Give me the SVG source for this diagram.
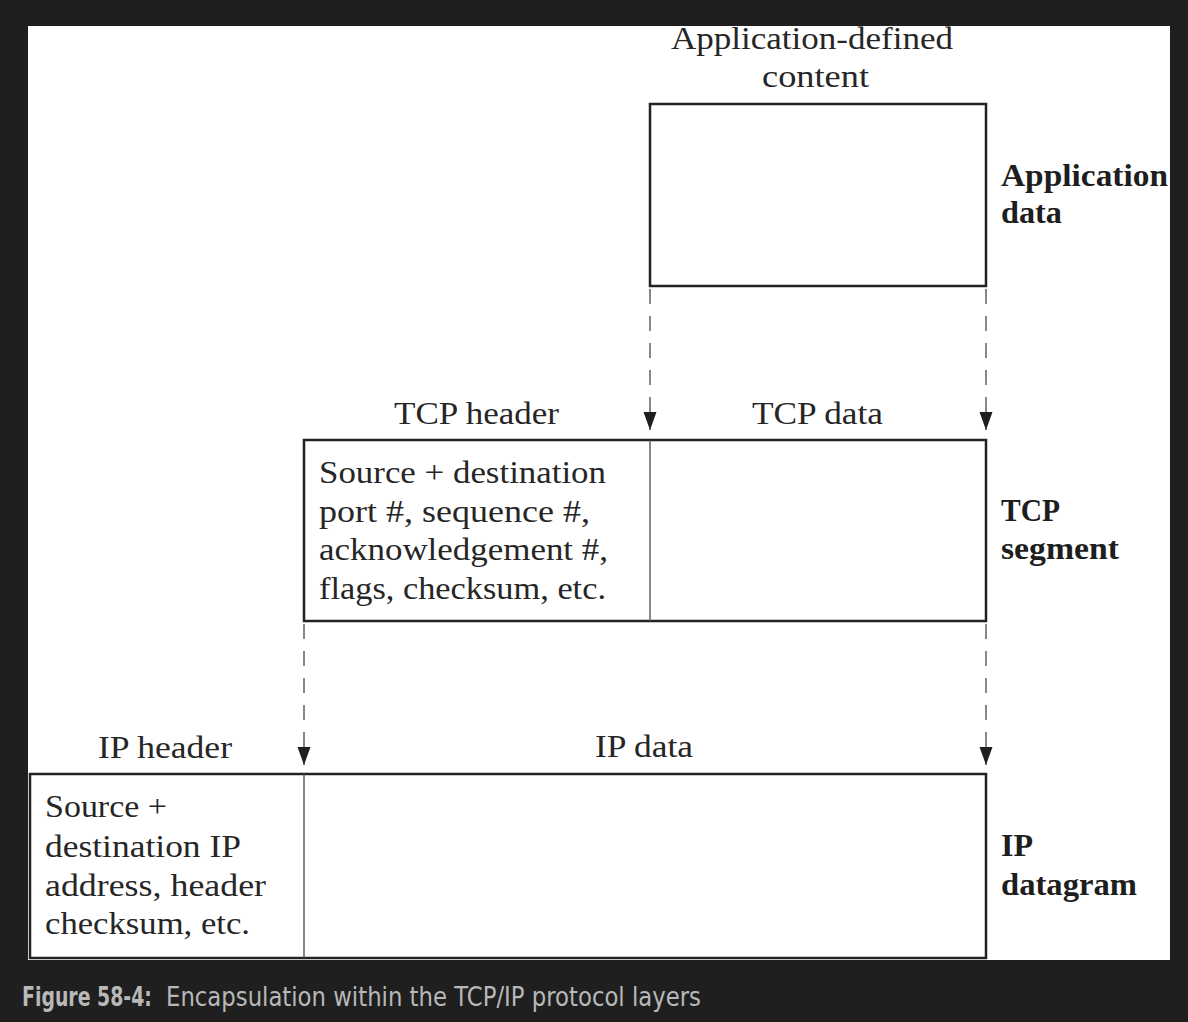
<svg xmlns="http://www.w3.org/2000/svg" width="1188" height="1022" viewBox="0 0 1188 1022">
  <style>
    .t { font-family: "Liberation Serif", "DejaVu Serif", serif; font-size: 31px; fill: #262626; }
    .b { font-family: "Liberation Serif", "DejaVu Serif", serif; font-size: 31px; font-weight: bold; fill: #1e1e1e; }
    .box { fill: none; stroke: #222; stroke-width: 2.5; }
    .div { stroke: #555; stroke-width: 1.4; }
    .dash { stroke: #555; stroke-width: 1.4; stroke-dasharray: 15 12; fill: none; }
    .cap { font-family: "DejaVu Sans", sans-serif; font-size: 27px; fill: #b8b8b8; }
  </style>
  <defs>
    <marker id="arr" markerUnits="userSpaceOnUse" markerWidth="20" markerHeight="14" viewBox="0 0 20 14" refX="18" refY="7" orient="auto">
      <path d="M0,0.5 L18,7 L0,13.5 Z" fill="#1e1e1e"/>
    </marker>
  </defs>
  <rect x="0" y="0" width="1188" height="1022" fill="#1f1f1f"/>
  <rect x="28" y="26" width="1142" height="934" fill="#ffffff"/>

  <g id="app-data">
    <text class="t" x="671" y="49" textLength="282" lengthAdjust="spacingAndGlyphs">Application-defined</text>
    <text class="t" x="762" y="87" textLength="107" lengthAdjust="spacingAndGlyphs">content</text>
    <rect class="box" x="650" y="104" width="336" height="182"/>
    <text class="b" x="1001" y="186" textLength="167" lengthAdjust="spacingAndGlyphs">Application</text>
    <text class="b" x="1001" y="223" textLength="61" lengthAdjust="spacingAndGlyphs">data</text>
  </g>

  <g id="tcp-segment">
    <text class="t" x="394" y="424" textLength="165" lengthAdjust="spacingAndGlyphs">TCP header</text>
    <text class="t" x="752" y="424" textLength="131" lengthAdjust="spacingAndGlyphs">TCP data</text>
    <rect class="box" x="304" y="440" width="682" height="181"/>
    <line class="div" x1="650" y1="440" x2="650" y2="621"/>
    <text class="t" x="319" y="483" textLength="287" lengthAdjust="spacingAndGlyphs">Source + destination</text>
    <text class="t" x="319" y="522" textLength="271" lengthAdjust="spacingAndGlyphs">port #, sequence #,</text>
    <text class="t" x="319" y="560" textLength="289" lengthAdjust="spacingAndGlyphs">acknowledgement #,</text>
    <text class="t" x="319" y="599" textLength="287" lengthAdjust="spacingAndGlyphs">flags, checksum, etc.</text>
    <text class="b" x="1001" y="521" textLength="59" lengthAdjust="spacingAndGlyphs">TCP</text>
    <text class="b" x="1001" y="559" textLength="118" lengthAdjust="spacingAndGlyphs">segment</text>
  </g>

  <g id="ip-datagram">
    <text class="t" x="98" y="758" textLength="134" lengthAdjust="spacingAndGlyphs">IP header</text>
    <text class="t" x="595" y="757" textLength="98" lengthAdjust="spacingAndGlyphs">IP data</text>
    <rect class="box" x="30" y="774" width="956" height="184"/>
    <line class="div" x1="304" y1="774" x2="304" y2="958"/>
    <text class="t" x="45" y="817" textLength="122" lengthAdjust="spacingAndGlyphs">Source +</text>
    <text class="t" x="45" y="857" textLength="196" lengthAdjust="spacingAndGlyphs">destination IP</text>
    <text class="t" x="45" y="896" textLength="221" lengthAdjust="spacingAndGlyphs">address, header</text>
    <text class="t" x="45" y="934" textLength="205" lengthAdjust="spacingAndGlyphs">checksum, etc.</text>
    <text class="b" x="1001" y="856" textLength="32" lengthAdjust="spacingAndGlyphs">IP</text>
    <text class="b" x="1001" y="895" textLength="136" lengthAdjust="spacingAndGlyphs">datagram</text>
  </g>

  <g id="connectors">
    <line class="dash" x1="650" y1="289" x2="650" y2="430" marker-end="url(#arr)"/>
    <line class="dash" x1="986" y1="289" x2="986" y2="430" marker-end="url(#arr)"/>
    <line class="dash" x1="304" y1="624" x2="304" y2="765" marker-end="url(#arr)"/>
    <line class="dash" x1="986" y1="624" x2="986" y2="765" marker-end="url(#arr)"/>
  </g>

  <g id="caption">
    <text class="cap" transform="translate(22,1006) scale(0.64,1)" x="0" y="0" font-weight="bold" textLength="203" lengthAdjust="spacingAndGlyphs">Figure 58-4:</text>
    <text class="cap" transform="translate(166,1006) scale(0.72,1)" x="0" y="0" textLength="743" lengthAdjust="spacingAndGlyphs">Encapsulation within the TCP/IP protocol layers</text>
  </g>
</svg>
